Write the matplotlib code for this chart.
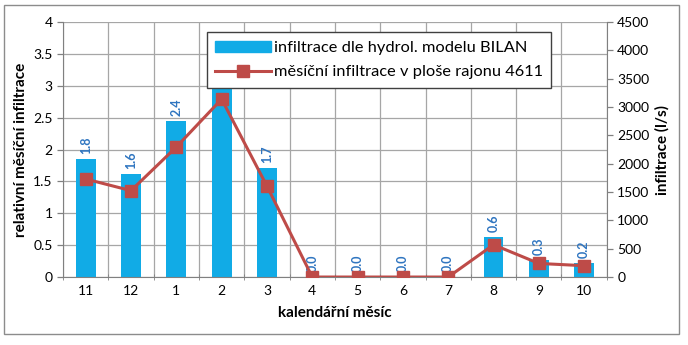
import numpy as np
import matplotlib
matplotlib.use('Agg')
from matplotlib import pyplot as plt
from matplotlib.patches import Rectangle

# data
months = ['11', '12', '1', '2', '3', '4', '5', '6', '7', '8', '9', '10']
relative = [1.85, 1.62, 2.45, 3.2, 1.71, 0.0, 0.0, 0.0, 0.0, 0.63, 0.26, 0.22]
bar_labels = ['1.8', '1.6', '2.4', '3.2', '1.7', '0.0', '0.0', '0.0', '0.0', '0.6', '0.3', '0.2']
infiltration = [1730, 1525, 2295, 3140, 1605, 0, 0, 0, 0, 570, 240, 200]

plt.rcParams['font.family'] = ['Lato', 'DejaVu Sans']

BAR_COLOR = '#11ABE6'
LINE_COLOR = '#BE4B48'
GRID = '#A6A6A6'


def main():
    fig = plt.figure(figsize=(6.88, 3.45), dpi=100)
    fig.patches.append(Rectangle((0.006, 0.032), 0.981, 0.953, transform=fig.transFigure,
                                 fill=False, edgecolor='#8C8C8C', linewidth=1.0))
    ax = fig.add_axes([0.0916, 0.197, 0.7904, 0.739])
    ax2 = ax.twinx()

    x = np.arange(len(months))
    ax.bar(x, relative, width=0.44, color=BAR_COLOR, zorder=2)
    for xi, v, lab in zip(x, relative, bar_labels):
        ax.text(xi, v + 0.08, lab, rotation=90, ha='center', va='bottom',
                color='#2F75C0', fontsize=9, fontweight='bold', zorder=3)

    # line drawn on the twin axes, which sits above the bars
    ax2.plot(x, infiltration, color=LINE_COLOR, linewidth=2.2, marker='s',
             markersize=8, markerfacecolor=LINE_COLOR, markeredgecolor=LINE_COLOR, zorder=4)

    ax.set_xlim(-0.5, len(months) - 0.5)
    ax.set_ylim(0, 4)
    ax2.set_ylim(0, 4500)
    ax.set_yticks(np.arange(0, 4.01, 0.5))
    ax.set_yticklabels(['0', '0.5', '1', '1.5', '2', '2.5', '3', '3.5', '4'])
    ax2.set_yticks(np.arange(0, 4501, 500))
    ax.set_xticks(x)
    ax.set_xticklabels(months)
    ax.set_xticks(np.arange(-0.5, len(months), 1), minor=True)

    # gridlines
    ax.grid(axis='y', color=GRID, linewidth=0.9, zorder=0)
    ax.grid(axis='x', which='minor', color=GRID, linewidth=0.9, zorder=0)
    ax.set_axisbelow(True)

    for a in (ax, ax2):
        a.spines['top'].set_visible(False)
        a.tick_params(labelsize=10, colors='#000000', length=4, width=0.9)
    ax.spines['right'].set_visible(False)
    ax2.spines['left'].set_visible(False)
    ax2.spines['bottom'].set_visible(False)
    ax.spines['left'].set_color('#808080')
    ax.spines['bottom'].set_color('#808080')
    ax2.spines['right'].set_color('#808080')
    ax.tick_params(axis='x', which='major', length=0, pad=6)
    ax.tick_params(axis='x', which='minor', length=4, direction='inout', color='#808080')
    ax.tick_params(axis='y', color='#808080')
    ax2.tick_params(axis='y', color='#808080')

    ax.set_xlabel('kalendářní měsíc', fontsize=11, fontweight='bold', labelpad=6)
    ax.set_ylabel('relativní měsíční infiltrace', fontsize=11, fontweight='bold', labelpad=4)
    ax2.set_ylabel('infiltrace (l/s)', fontsize=11, fontweight='bold', labelpad=4)

    handles = [plt.Rectangle((0, 0), 1, 1, color=BAR_COLOR),
               plt.Line2D([], [], color=LINE_COLOR, linewidth=2.2, marker='s', markersize=8)]
    leg = fig.legend(handles, ['infiltrace dle hydrol. modelu BILAN',
                               'měsíční infiltrace v ploše rajonu 4611'],
                     loc='upper left', bbox_to_anchor=(0.289, 0.93), fontsize=11.8,
                     frameon=True, fancybox=False, edgecolor='#404040', framealpha=1,
                     handlelength=3.4, handletextpad=0.2, borderpad=0.5, labelspacing=0.6)
    leg.get_frame().set_linewidth(1.0)
    leg.set_zorder(10)

    fig.savefig('out.png', dpi=100)


if __name__ == '__main__':
    main()
